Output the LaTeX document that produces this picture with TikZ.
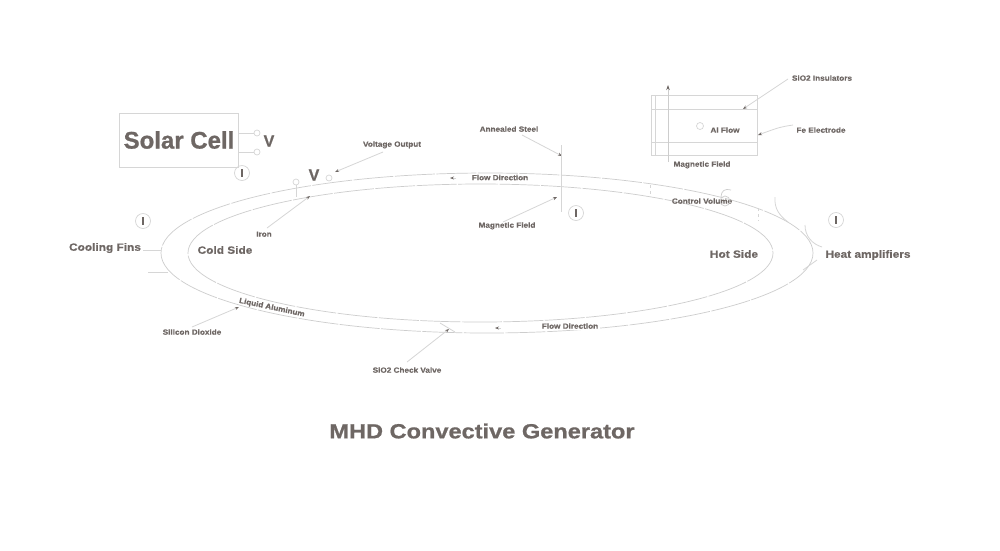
\documentclass[tikz,border=0pt]{standalone}
\usepackage{fontspec}
\setmainfont{Liberation Sans}
\newfontfamily\smallface[FakeStretch=1.09,FakeBold=0.4]{Liberation Sans Bold}
\newfontfamily\midface[FakeStretch=1.13,FakeBold=0.5]{Liberation Sans Bold}
\newfontfamily\titleface[FakeStretch=1.15,FakeBold=0.8]{Liberation Sans Bold}
\newfontfamily\solarface[FakeBold=0.8]{Liberation Sans Bold}
\usetikzlibrary{arrows.meta}
\definecolor{txt}{HTML}{6E6764}
\definecolor{ln}{HTML}{D6D6D6}
\definecolor{lnd}{HTML}{CDCDCD}
\tikzset{
  small/.style={text=txt,font=\smallface\fontsize{7.5}{9}\selectfont,inner sep=0pt,text height=5.4pt,text depth=0pt},
  mid/.style={text=txt,font=\midface\fontsize{10.5}{12}\selectfont,inner sep=0pt,text height=7.5pt,text depth=0pt},
  volt/.style={text=txt,font=\solarface\fontsize{16}{18}\selectfont,inner sep=0pt},
  wire/.style={draw=ln,line width=0.8pt},
  loop/.style={draw=lnd,line width=0.7pt,dash pattern=on 40pt off 1.5pt},
  lead/.style={draw=ln,line width=0.8pt,-{Stealth[length=4pt,width=3pt,color=txt]}},
  amp/.style={circle,draw=ln,line width=0.7pt,minimum size=15pt,inner sep=0pt,text=txt,font=\solarface\fontsize{11}{12}\selectfont},
  term/.style={circle,draw=ln,line width=0.7pt,minimum size=6pt,inner sep=0pt},
  boxed/.style={draw=ln,line width=0.8pt,inner sep=0pt}
}
\begin{document}
\begin{tikzpicture}[x=1pt,y=-1pt]
\useasboundingbox[fill=white] (0,0) rectangle (1000,550);
% loop
\draw[loop] (487,253) ellipse [x radius=326,y radius=80];
\draw[loop] (480.5,253) ellipse [x radius=292.5,y radius=69];
% solar cell
\node[boxed,minimum width=119pt,minimum height=54pt] (solar) at (178.5,140) {};
\node[text=txt,font=\solarface\fontsize{24}{28}\selectfont,inner sep=0pt] (solart) at (179,140) {Solar Cell};
\node[term] (t1) at (257,133) {};
\node[term] (t2) at (257,152) {};
\coordinate (s1) at (238,133);
\coordinate (s2) at (238,152);
\draw[wire] (s1) -- (t1);
\draw[wire] (s2) -- (t2);
\node[volt] (v1) at (269,141) {V};
\node[amp] (i1) at (242,173) {I};
\node[amp] (i2) at (143,221) {I};
\node[amp] (i3) at (576,213) {I};
\node[amp] (i4) at (836,220) {I};
% voltage
\node[volt] (v2) at (314,175) {V};
\node[term] (t3) at (296,182) {};
\node[term] (t4) at (329,178) {};
\coordinate (t3e) at (296,197);
\draw[wire] (t3) -- (t3e);
\node[small] (vo) at (392,144) {Voltage Output};
\coordinate (vot) at (335,172);
\coordinate (vos) at (383,152);
\draw[lead] (vos) -- (vot);
\node[small] (iron) at (264,234) {Iron};
\coordinate (irs) at (267,228);
\coordinate (irt) at (310,196);
\draw[lead] (irs) -- (irt);
% annealed steel
\node[small] (as) at (509,129) {Annealed Steel};
\coordinate (ass) at (522,135);
\coordinate (ast) at (562,156);
\draw[lead] (ass) -- (ast);
\coordinate (st1) at (561,145);
\coordinate (st2) at (561,212);
\draw[wire] (st1) -- (st2);
\node[small] (mf1) at (507,225) {Magnetic Field};
\coordinate (mfs) at (503,222);
\coordinate (mft) at (557,197);
\draw[lead] (mfs) -- (mft);
\node[small] (fd1) at (500,177.5) {Flow Direction};
\coordinate (fa1) at (456,178);
\coordinate (fa2) at (450,178);
\draw[lead] (fa1) -- (fa2);
% inset box
\node[boxed,minimum width=106pt,minimum height=60pt] (inset) at (704,125) {};
\coordinate (b1l) at (651,109); \coordinate (b1r) at (757,109);
\coordinate (b2l) at (651,142); \coordinate (b2r) at (757,142);
\coordinate (b3t) at (655,95); \coordinate (b3b) at (655,155);
\draw[wire] (b1l) -- (b1r);
\draw[wire] (b2l) -- (b2r);
\draw[wire] (b3t) -- (b3b);
\coordinate (ar1) at (668,162);
\coordinate (ar2) at (668,85);
\draw[draw=lnd,line width=0.8pt,-{Stealth[length=5pt,width=3.5pt,color=txt]}] (ar1) -- (ar2);
\node[term,minimum size=7pt] (flowc) at (700,126) {};
\node[small] (alf) at (725,130) {Al Flow};
\node[small] (sio) at (822,78) {SiO2 Insulators};
\coordinate (sis) at (788,79);
\coordinate (sit) at (743,109);
\draw[lead] (sis) -- (sit);
\node[small] (fe) at (821,130) {Fe Electrode};
\coordinate (fes) at (793,125);
\coordinate (fet) at (758,135);
\draw[lead] (fes) .. controls (780,127) .. (fet);
\node[small] (mf2) at (702,164) {Magnetic Field};
% control volume
\coordinate (cv1) at (650,185); \coordinate (cv2) at (650,197);
\coordinate (cv3) at (758,208); \coordinate (cv4) at (758,221);
\draw[draw=ln,line width=0.7pt,dashed] (cv1) -- (cv2);
\draw[draw=ln,line width=0.7pt,dashed] (cv3) -- (cv4);
\node[small] (cv) at (702,201) {Control Volume};
\node[circle,draw=lnd,line width=0.7pt,minimum size=10pt,inner sep=0pt] (cvc) at (725,201) {};
\coordinate (cvt) at (731,190);
\coordinate (cvl) at (721,197);
\draw[draw=lnd,line width=0.7pt] (cvt) .. controls (725,188) and (721,191) .. (cvl);
% labels
\node[mid] (cold) at (225,250) {Cold Side};
\node[mid] (hot) at (734,254) {Hot Side};
\node[mid] (cf) at (105,247) {Cooling Fins};
\node[mid] (ha) at (868,254) {Heat amplifiers};
\coordinate (cfa) at (143,250); \coordinate (cfb) at (161,250);
\coordinate (cfc) at (148,272); \coordinate (cfd) at (168,272);
\draw[wire] (cfa) -- (cfb);
\draw[wire] (cfc) -- (cfd);
% heat fins
\coordinate (f1a) at (775,197); \coordinate (f1b) at (788,222);
\coordinate (f2a) at (805,225); \coordinate (f2b) at (822,247);
\coordinate (f3a) at (817,260); \coordinate (f3b) at (803,270);
\draw[wire] (f1a) .. controls (774,209) and (780,216) .. (f1b);
\draw[wire] (f2a) .. controls (805,236) and (812,244) .. (f2b);
\draw[wire] (f3a) -- (f3b);
% bottom
\node[small,rotate=-12] (la) at (272,307) {Liquid Aluminum};
\node[small] (si) at (192,332) {Silicon Dioxide};
\coordinate (sds) at (192,327);
\coordinate (sdt) at (239,307);
\draw[lead] (sds) -- (sdt);
\node[small] (cvv) at (407,370) {SiO2 Check Valve};
\coordinate (cvs) at (407,362);
\coordinate (cvp) at (449,329);
\draw[lead] (cvs) -- (cvp);
\coordinate (va) at (440,323); \coordinate (vb) at (455,332);
\draw[wire] (va) -- (vb);
\node[fill=white,small,inner xsep=2pt,inner ysep=1pt] (fd2) at (570,326) {Flow Direction};
\coordinate (fb1) at (501,328);
\coordinate (fb2) at (495,328);
\draw[lead] (fb1) -- (fb2);
\node[text=txt,font=\titleface\fontsize{20.5}{24}\selectfont,inner sep=0pt,text height=14.7pt,text depth=0pt] (title) at (482,431) {MHD Convective Generator};
\end{tikzpicture}
\end{document}
